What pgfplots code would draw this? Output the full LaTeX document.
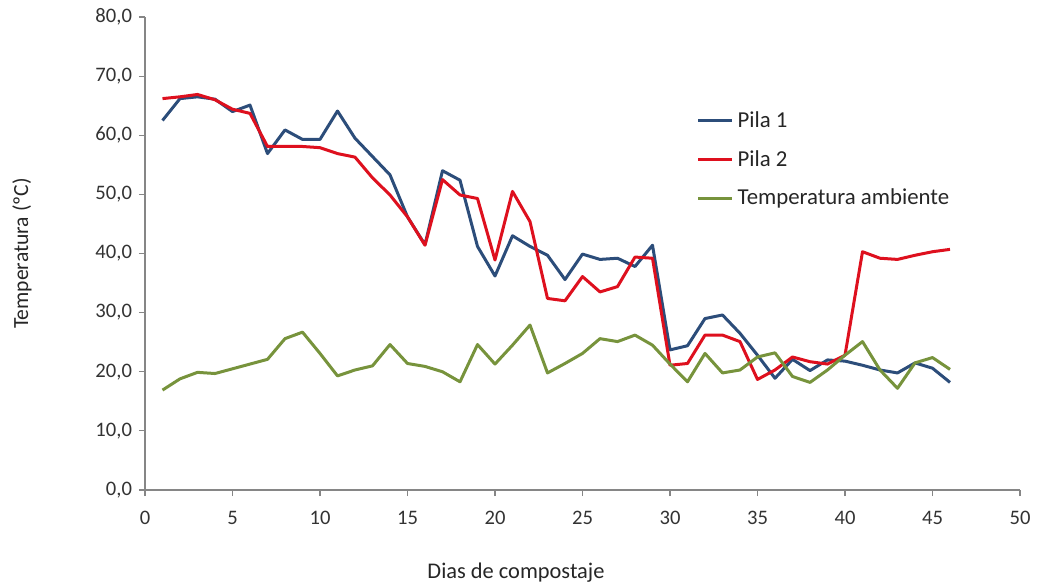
\documentclass[border=0pt]{standalone}
\usepackage{fontspec}
\setmainfont{Carlito}
\usepackage{pgfplots}
\pgfplotsset{compat=1.18}
\definecolor{pilaA}{RGB}{44,77,122}
\definecolor{pilaB}{RGB}{222,16,30}
\definecolor{amb}{RGB}{119,147,60}
\definecolor{axgray}{RGB}{134,134,134}
\begin{document}
\begin{tikzpicture}
\begin{axis}[
    scale only axis,
    width=437.5pt, height=236.5pt,
    xmin=0, xmax=50, ymin=0, ymax=80,
    xtick={0,5,...,50},
    ytick={0,10,...,80},
    axis lines*=left,
    axis line style={axgray, line width=0.6pt},
    tick style={axgray, line width=0.6pt},
    tick align=outside,
    major tick length=3pt,
    font=\fontsize{10.3}{12}\selectfont,
    ticklabel style={text=black!80},
    /pgf/number format/assume math mode=true,
    yticklabel style={/pgf/number format/.cd, fixed, fixed zerofill, precision=1, use comma},
    xticklabel style={yshift=-4pt},
    xlabel={Dias de compostaje},
    ylabel={Temperatura (ºC)},
    every axis x label/.style={at={([yshift=-41.5pt]axis description cs:0.424,0)}, anchor=center,
        text=black!85, font=\fontsize{11.2}{13}\selectfont},
    every axis y label/.style={at={([xshift=-61.5pt]axis description cs:0,0.5)}, rotate=90, anchor=center,
        text=black!85, font=\fontsize{10.8}{13}\selectfont},
    legend style={at={(axis description cs:0.623,0.818)}, anchor=north west, draw=none, fill=none,
        row sep=6pt, font=\fontsize{11.4}{13}\selectfont, text=black!85},
    legend cell align=left,
    every axis plot/.append style={line width=1.5pt, line join=round},
]
\addplot[pilaA] coordinates {
(1,62.5)(2,66.2)(3,66.5)(4,66.1)(5,64.0)(6,65.1)(7,56.9)(8,60.9)(9,59.3)(10,59.3)
(11,64.1)(12,59.5)(13,56.4)(14,53.3)(15,46.2)(16,41.5)(17,54.0)(18,52.4)(19,41.2)(20,36.2)
(21,43.0)(22,41.2)(23,39.7)(24,35.6)(25,39.9)(26,39.0)(27,39.2)(28,37.8)(29,41.4)(30,23.7)
(31,24.4)(32,29.0)(33,29.6)(34,26.5)(35,22.8)(36,18.9)(37,22.1)(38,20.2)(39,22.0)(40,21.8)
(41,21.1)(42,20.3)(43,19.8)(44,21.5)(45,20.6)(46,18.2)
};
\addlegendentry{Pila 1}
\addplot[pilaB] coordinates {
(1,66.2)(2,66.5)(3,66.9)(4,66.0)(5,64.4)(6,63.7)(7,58.1)(8,58.1)(9,58.1)(10,57.9)
(11,56.9)(12,56.3)(13,52.8)(14,49.9)(15,46.2)(16,41.4)(17,52.5)(18,49.9)(19,49.3)(20,38.9)
(21,50.5)(22,45.4)(23,32.4)(24,32.0)(25,36.1)(26,33.5)(27,34.4)(28,39.4)(29,39.2)(30,21.1)
(31,21.4)(32,26.2)(33,26.2)(34,25.1)(35,18.7)(36,20.3)(37,22.5)(38,21.7)(39,21.3)(40,22.8)
(41,40.3)(42,39.2)(43,39.0)(44,39.7)(45,40.3)(46,40.7)
};
\addlegendentry{Pila 2}
\addplot[amb] coordinates {
(1,16.9)(2,18.8)(3,19.9)(4,19.7)(5,20.5)(6,21.3)(7,22.1)(8,25.6)(9,26.7)(10,23.1)
(11,19.3)(12,20.3)(13,21.0)(14,24.6)(15,21.4)(16,20.9)(17,20.0)(18,18.3)(19,24.6)(20,21.3)
(21,24.5)(22,27.9)(23,19.8)(24,21.4)(25,23.1)(26,25.6)(27,25.1)(28,26.2)(29,24.5)(30,21.3)
(31,18.3)(32,23.1)(33,19.8)(34,20.3)(35,22.5)(36,23.2)(37,19.2)(38,18.2)(39,20.3)(40,22.8)
(41,25.1)(42,20.3)(43,17.2)(44,21.5)(45,22.4)(46,20.4)
};
\addlegendentry{Temperatura ambiente}
\end{axis}
\pgfresetboundingbox
\path[use as bounding box] (-72.5pt,-48pt) rectangle (447pt,245pt);
\end{tikzpicture}
\end{document}
